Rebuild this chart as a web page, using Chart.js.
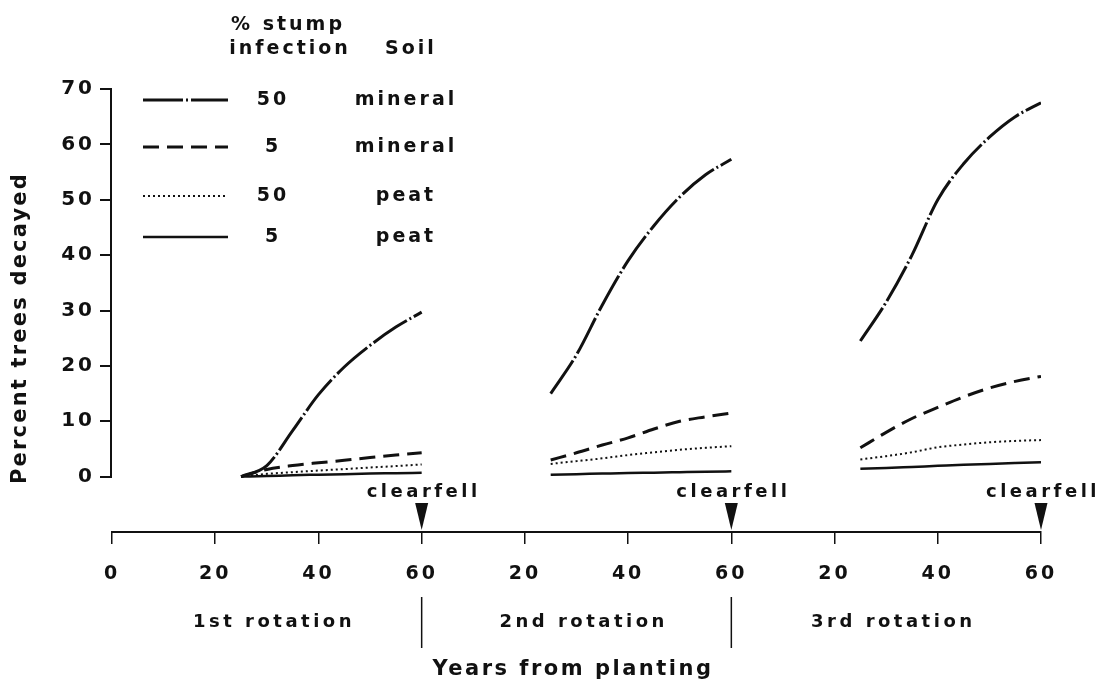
<!DOCTYPE html>
<html>
<head>
<meta charset="utf-8">
<title>Percent trees decayed over three rotations</title>
<script src="https://cdn.jsdelivr.net/npm/chart.js@4.4.1/dist/chart.umd.min.js"></script>
<style>
  html, body { margin: 0; padding: 0; background: #fff; }
  canvas { display: block; }
</style>
</head>
<body>
<canvas id="decay" width="1106" height="681"></canvas>
<script>
// years from planting, one block per rotation (x axis runs 0..180)
const rotationYears = [
  [25, 30, 35, 40, 45, 50, 55, 60],
  [85, 90, 95, 100, 105, 110, 115, 120],
  [145, 150, 155, 160, 165, 170, 175, 180]
]
// percent trees decayed, same blocks
const mineral50 = [
  [0, 2, 8.3, 14.8, 19.8, 23.7, 27, 29.7],
  [15, 22, 31, 39, 45.3, 50.5, 54.5, 57.3],
  [24.5, 31.5, 40, 50, 56.5, 61.3, 65, 67.5]
]
const mineral5 = [
  [0, 1.3, 2, 2.5, 2.95, 3.45, 3.9, 4.3],
  [3, 4.3, 5.7, 7, 8.6, 10, 10.8, 11.5],
  [5.2, 8, 10.5, 12.5, 14.4, 16, 17.2, 18.1]
]
const peat50 = [
  [0, 0.5, 0.8, 1.1, 1.35, 1.65, 1.9, 2.2],
  [2.3, 2.8, 3.3, 3.9, 4.4, 4.85, 5.2, 5.5],
  [3.1, 3.7, 4.4, 5.3, 5.8, 6.2, 6.45, 6.6]
]
const peat5 = [
  [0, 0.1, 0.25, 0.35, 0.45, 0.55, 0.62, 0.7],
  [0.35, 0.45, 0.55, 0.65, 0.72, 0.8, 0.88, 0.95],
  [1.4, 1.55, 1.75, 1.95, 2.15, 2.3, 2.45, 2.6]
]
const infection = ['50', '5', '50', '5']
const soil = ['mineral', 'mineral', 'peat', 'peat']
const xTickLabels = ['0', '20', '40', '60', '20', '40', '60', '20', '40', '60']
const clearfellYears = [60, 120, 180]
const rotationNames = ['1st rotation', '2nd rotation', '3rd rotation']
const rotationMid = [31, 91, 151]

const ink = '#111'
const font = 'DejaVu Sans'

// one line per series, broken between rotations by a null point
function toPoints(blocks) {
  const pts = []
  blocks.forEach((vals, r) => {
    if (r > 0) pts.push({ x: (rotationYears[r - 1][7] + rotationYears[r][0]) / 2, y: null })
    vals.forEach((v, i) => pts.push({ x: rotationYears[r][i], y: v }))
  })
  return pts
}

function series(blocks, dash, width) {
  return {
    data: toPoints(blocks),
    borderColor: ink,
    borderWidth: width,
    borderDash: dash,
    pointRadius: 0,
    fill: false,
    spanGaps: false,
    cubicInterpolationMode: 'monotone'
  }
}

const legendRows = [100, 147, 196, 237]

const annotate = {
  id: 'annotate',
  beforeDraw(chart) {
    chart.ctx.letterSpacing = '3px'
  },
  afterDraw(chart) {
    const { ctx, chartArea, scales: { x, y } } = chart
    ctx.save()
    ctx.fillStyle = ink
    ctx.strokeStyle = ink

    // y axis line only over 0..70
    ctx.lineWidth = 2
    ctx.beginPath()
    ctx.moveTo(chartArea.left - 1, y.getPixelForValue(70) - 1)
    ctx.lineTo(chartArea.left - 1, y.getPixelForValue(0) + 1)
    ctx.stroke()

    // y title
    ctx.save()
    ctx.translate(21, 328)
    ctx.rotate(-Math.PI / 2)
    ctx.font = 'bold 21px ' + font
    ctx.letterSpacing = '2.2px'
    ctx.textAlign = 'center'
    ctx.textBaseline = 'middle'
    ctx.fillText('Percent trees decayed', 0, 0)
    ctx.restore()

    // legend table
    ctx.font = 'bold 19px ' + font
    ctx.letterSpacing = '3px'
    ctx.textAlign = 'center'
    ctx.textBaseline = 'middle'
    ctx.fillText('% stump', 288, 25)
    ctx.fillText('infection', 290, 49)
    ctx.fillText('Soil', 411, 49)
    chart.data.datasets.forEach((ds, i) => {
      const ry = legendRows[i]
      ctx.save()
      ctx.lineWidth = ds.borderWidth
      ctx.setLineDash(ds.borderDash)
      ctx.beginPath()
      ctx.moveTo(143, ry)
      ctx.lineTo(228, ry)
      ctx.stroke()
      ctx.restore()
      ctx.fillText(infection[i], 273, ry)
      ctx.fillText(soil[i], 406, ry)
    })

    // clearfell arrows
    ctx.font = 'bold 18px ' + font
    ctx.letterSpacing = '3.5px'
    ctx.textBaseline = 'alphabetic'
    clearfellYears.forEach(yr => {
      const px = x.getPixelForValue(yr)
      ctx.fillText('clearfell', px + 2, 497)
      ctx.beginPath()
      ctx.moveTo(px - 6.5, 503)
      ctx.lineTo(px + 6.5, 503)
      ctx.lineTo(px, 530)
      ctx.closePath()
      ctx.fill()
    })

    // rotation labels and dividers
    ctx.textBaseline = 'middle'
    rotationNames.forEach((name, i) => {
      ctx.fillText(name, x.getPixelForValue(rotationMid[i]) + 2, 622)
    })
    ctx.lineWidth = 1.5
    clearfellYears.slice(0, 2).forEach(yr => {
      const px = x.getPixelForValue(yr)
      ctx.beginPath()
      ctx.moveTo(px, 597)
      ctx.lineTo(px, 648)
      ctx.stroke()
    })

    // x title
    ctx.font = 'bold 21px ' + font
    ctx.letterSpacing = '2.5px'
    ctx.fillText('Years from planting', 573, 670)
    ctx.restore()
  }
}

Chart.defaults.font.family = font
Chart.defaults.color = ink

new Chart(document.getElementById('decay'), {
  type: 'line',
  data: {
    datasets: [
      series(mineral50, [40, 3, 2, 3], 3),
      series(mineral5, [16, 8], 3),
      series(peat50, [2, 3], 2),
      series(peat5, [], 2.5)
    ]
  },
  options: {
    responsive: false,
    animation: false,
    layout: { padding: { top: 89, right: 65, left: 0, bottom: 0 } },
    plugins: { legend: { display: false }, tooltip: { enabled: false } },
    scales: {
      x: {
        type: 'linear',
        min: 0,
        max: 180,
        afterFit(scale) { scale.height = 149 },
        border: { display: true, color: ink, width: 2 },
        grid: { drawOnChartArea: false, tickLength: 12, color: ink, lineWidth: 1.5 },
        ticks: {
          stepSize: 20,
          autoSkip: false,
          maxRotation: 0,
          padding: 19,
          font: { size: 19, weight: 'bold' },
          callback: (v, i) => xTickLabels[i]
        }
      },
      y: {
        min: -10,
        max: 70,
        afterFit(scale) { scale.width = 112 },
        afterBuildTicks(scale) { scale.ticks = scale.ticks.filter(t => t.value >= 0) },
        border: { display: false },
        grid: { drawOnChartArea: false, tickLength: 12, color: ink, lineWidth: 2 },
        ticks: { stepSize: 10, padding: 5, font: { size: 20, weight: 'bold' } }
      }
    }
  },
  plugins: [annotate]
})
</script>
</body>
</html>
